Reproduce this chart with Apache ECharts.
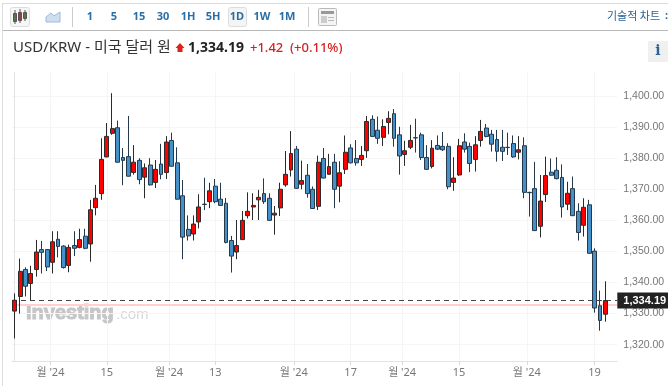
<!DOCTYPE html>
<html>
<head>
<meta charset="utf-8">
<style>
  html, body { margin: 0; padding: 0; background: #fff; }
  #chart { width: 668px; height: 386px; }
</style>
<script src="https://cdn.jsdelivr.net/npm/echarts@6/dist/echarts.min.js"></script>
</head>
<body>
<div id="chart"></div>
<script>
var opens = [1330.8,1335.5,1344.2,1339.7,1344.2,1350.6,1350.6,1346.5,1353.9,1351.7,
  1345.5,1351.9,1351.3,1354.9,1352.4,1364.1,1368.6,1380.4,1388.0,1389.8,
  1380.2,1380.5,1375.4,1379.3,1373.9,1377.8,1372.2,1378.1,1375.4,1385.7,
  1378.5,1367.9,1357.1,1355.6,1359.5,1365.2,1366.0,1371.0,1366.8,1365.5,
  1353.5,1349.8,1353.8,1361.5,1364.3,1366.6,1368.6,1367.1,1361.7,1364.0,
  1371.4,1376.2,1382.9,1371.6,1374.5,1370.0,1364.5,1379.9,1374.8,1378.7,
  1371.0,1376.4,1383.3,1379.9,1379.6,1382.4,1392.5,1389.0,1386.7,1391.5,
  1394.3,1387.5,1381.2,1383.5,1386.6,1387.5,1380.2,1377.3,1384.1,1383.8,
  1383.8,1372.2,1374.6,1385.2,1383.8,1379.6,1385.7,1389.7,1387.7,1386.0,
  1383.5,1383.5,1384.7,1381.9,1384.0,1369.0,1370.2,1358.1,1368.3,1375.5,
  1376.1,1373.8,1365.2,1370.2,1362.9,1358.4,1365.0,1350.1,1332.5,1329.8];
var closes = [1334.3,1343.6,1338.8,1342.9,1349.8,1349.7,1345.0,1353.1,1351.6,1344.8,
  1351.3,1351.0,1353.8,1351.0,1363.4,1367.1,1379.6,1387.0,1389.5,1378.7,
  1379.3,1374.2,1378.7,1373.1,1376.9,1371.4,1376.4,1374.8,1385.2,1377.4,
  1366.8,1354.6,1355.0,1358.8,1364.3,1365.1,1369.5,1366.0,1364.8,1352.9,
  1348.5,1351.9,1360.0,1362.9,1364.8,1367.4,1366.0,1360.0,1362.3,1370.0,
  1374.8,1381.5,1370.3,1372.8,1368.6,1363.8,1378.7,1373.6,1377.3,1370.0,
  1375.3,1381.9,1378.5,1378.5,1380.9,1391.8,1387.0,1386.4,1390.2,1392.8,
  1386.4,1380.7,1382.4,1385.7,1386.5,1380.2,1376.4,1383.2,1382.9,1382.7,
  1370.8,1373.6,1384.0,1382.9,1378.3,1384.3,1388.6,1387.0,1384.5,1382.2,
  1382.2,1383.4,1380.4,1382.7,1369.0,1368.9,1356.7,1366.2,1374.4,1374.5,
  1373.4,1364.3,1368.7,1361.5,1356.1,1364.2,1349.4,1331.8,1327.8,1334.19];
var lows = [1322.0,1330.0,1335.5,1334.3,1341.9,1342.9,1343.7,1342.9,1348.1,1344.5,
  1343.3,1348.5,1351.0,1350.7,1346.7,1361.6,1366.6,1380.3,1387.5,1378.6,
  1371.3,1374.1,1374.7,1371.6,1367.1,1371.2,1370.4,1373.2,1373.3,1377.3,
  1366.7,1347.5,1353.5,1353.5,1357.4,1363.3,1363.9,1365.5,1364.6,1352.6,
  1343.2,1347.5,1353.7,1360.6,1360.1,1360.1,1365.3,1359.9,1355.4,1361.4,
  1370.8,1374.1,1370.2,1370.0,1367.3,1363.7,1363.3,1373.5,1374.7,1363.9,
  1365.8,1374.9,1378.3,1377.6,1377.5,1380.1,1386.9,1384.6,1383.9,1387.7,
  1383.7,1374.7,1377.5,1382.9,1381.8,1379.4,1376.2,1376.7,1382.6,1382.3,
  1370.0,1369.5,1374.3,1381.8,1375.5,1375.7,1383.7,1386.7,1382.1,1378.9,
  1379.1,1381.0,1380.1,1379.6,1367.1,1361.2,1356.6,1354.5,1365.9,1374.4,
  1373.2,1360.9,1363.3,1361.4,1353.5,1354.8,1349.3,1330.3,1324.5,1327.4];
var highs = [1336.5,1347.7,1344.9,1345.4,1353.7,1353.4,1350.6,1356.5,1356.5,1352.0,
  1352.2,1356.5,1357.3,1357.3,1366.6,1371.4,1386.4,1391.3,1400.9,1392.1,
  1383.3,1393.6,1384.2,1380.0,1378.3,1380.0,1379.4,1384.6,1387.1,1388.2,
  1383.5,1373.0,1361.6,1361.6,1368.4,1373.7,1372.1,1373.3,1372.1,1367.2,
  1355.0,1360.1,1363.0,1369.0,1368.7,1369.8,1373.5,1368.7,1364.6,1372.1,
  1382.3,1388.7,1383.9,1379.2,1378.1,1370.9,1380.8,1383.3,1381.4,1381.4,
  1379.0,1387.3,1384.5,1385.8,1383.9,1393.6,1393.8,1393.4,1392.5,1395.1,
  1395.8,1390.1,1385.6,1390.7,1392.7,1388.2,1384.2,1385.8,1387.3,1388.4,
  1384.8,1380.3,1386.2,1388.0,1385.0,1387.1,1392.3,1391.0,1389.1,1389.1,
  1389.1,1388.2,1387.3,1387.1,1386.7,1369.2,1378.8,1374.6,1380.5,1379.9,
  1380.3,1378.0,1372.4,1374.1,1365.5,1367.1,1366.6,1351.0,1337.4,1340.4];

var lastPrice = 1334.19;
var prevClose = 1332.77;

var xTickPositions = [6.6, 17, 28.5, 37, 51.5, 62, 71.5, 82, 94.5, 107];
var xTickLabels = ["월 '24", "15", "월 '24", "13", "월 '24", "17", "월 '24", "15", "월 '24", "19"];
var yTicks = [1320, 1330, 1340, 1350, 1360, 1370, 1380, 1390, 1400];

var periods = ["1", "5", "15", "30", "1H", "5H", "1D", "1W", "1M"];
var periodCenters = [90, 114, 139, 163, 188, 213, 237, 262, 287];

var candles = [];
for (var i = 0; i < opens.length; i++) {
  candles.push([i, opens[i], closes[i], lows[i], highs[i]]);
}

function txt(x, y, text, font, fill, align) {
  return {
    type: "text", x: x, y: y, silent: true,
    style: { text: text, font: font, fill: fill, align: align || "left", verticalAlign: "middle" }
  };
}
function box(x, y, w, h, fill, stroke, r) {
  return {
    type: "rect", silent: true,
    shape: { x: x, y: y, width: w, height: h, r: r || 0 },
    style: { fill: fill || "none", stroke: stroke || "none", lineWidth: 1 }
  };
}
function rule(x1, y1, x2, y2, color) {
  return {
    type: "line", silent: true,
    shape: { x1: x1, y1: y1, x2: x2, y2: y2 },
    style: { stroke: color, lineWidth: 1 }
  };
}

var headFont = '"Noto Sans", "Noto Sans CJK KR", sans-serif';

var chrome = [
  rule(2, 3.5, 668, 3.5, "#dcdcdc"),
  rule(2.5, 3, 2.5, 386, "#dcdcdc"),
  rule(3, 30.5, 668, 30.5, "#b8b8b8"),

  box(10.5, 7.5, 19, 19, "#f6f6f6", "#dddddd", 2),
  box(13.5, 13.5, 3, 8, "#4f9a3a", "#555"),
  box(18.5, 12.5, 3, 8, "#e8262a", "#555"),
  box(23.5, 12.5, 3, 6, "#4f9a3a", "#555"),
  rule(15, 10, 15, 24, "#555"),
  rule(20, 9, 20, 23, "#555"),
  rule(25, 10, 25, 21, "#555"),

  {
    type: "polygon", silent: true,
    shape: { points: [[46, 22], [46, 17], [51, 13], [54, 16], [60, 12], [60, 22]] },
    style: { fill: "#cfdff0", stroke: "#9dbbdb", lineWidth: 1 }
  },

  rule(72.5, 7, 72.5, 27, "#cccccc"),
  box(228.5, 7.5, 18, 19, "#f4f4f4", "#dddddd", 2),
  rule(308.5, 7, 308.5, 27, "#cccccc"),

  box(318.5, 8.5, 18, 17, "#f4f4f4", "#bbbbbb", 1),
  box(321, 11, 13, 3, "#999999"),
  box(321, 16, 6, 7, "#cccccc"),
  rule(328, 17.5, 334, 17.5, "#bbbbbb"),
  rule(328, 20.5, 334, 20.5, "#bbbbbb"),

  txt(607, 16, "기술적 차트", '11px "Noto Sans CJK KR", sans-serif', "#2a6496"),
  txt(665, 16, ":", "bold 11px " + headFont, "#2a6496"),

  txt(13, 48, "USD/KRW - 미국 달러 원", "15px " + headFont, "#333333"),
  {
    type: "polygon", silent: true,
    shape: { points: [[180, 43], [184.5, 48], [182.5, 48], [182.5, 52], [177.5, 52], [177.5, 48], [175.5, 48]] },
    style: { fill: "#e0201c" }
  },
  txt(188, 48, "1,334.19", "bold 14px " + headFont, "#222222"),
  txt(250, 48, "+1.42", "500 13px " + headFont, "#d81f1f"),
  txt(290, 48, "(+0.11%)", "500 13px " + headFont, "#d81f1f"),

  box(648, 41, 20, 21, "#f0f0f0"),
  txt(658, 51, "i", 'bold 14px "DejaVu Serif", serif', "#2a6496", "center"),

  {
    type: "text", x: 26, y: 313, silent: true,
    style: {
      text: "Investing", font: 'bold 20px "Liberation Sans", sans-serif',
      fill: "#c6c6c6", stroke: "#c6c6c6", lineWidth: 1, verticalAlign: "middle"
    }
  },
  txt(116, 315, ".com", '15px "Liberation Sans", sans-serif', "#d8d8d8"),
  {
    type: "circle", silent: true,
    shape: { cx: 87, cy: 304, r: 1.5 },
    style: { fill: "#f9d9b0" }
  }
];

for (var p = 0; p < periods.length; p++) {
  chrome.push(txt(periodCenters[p], 16.5, periods[p], "bold 11px " + headFont, "#2a6ea6", "center"));
}

var myChart = echarts.init(document.getElementById("chart"));
var option = {
  animation: false,
  backgroundColor: "#fff",
  graphic: { elements: chrome },
  grid: { left: 12, top: 72, width: 605.3, height: 289, containLabel: false },
  xAxis: {
    type: "value",
    min: -0.49,
    max: 111.2,
    axisLine: { onZero: false, lineStyle: { color: "#e3e3e3" } },
    axisTick: { length: 4, lineStyle: { color: "#dcdcdc" }, customValues: xTickPositions },
    axisLabel: {
      color: "#777",
      fontSize: 11,
      fontFamily: headFont,
      margin: 6,
      customValues: xTickPositions,
      formatter: function (v) {
        return xTickLabels[xTickPositions.indexOf(v)];
      }
    },
    splitLine: { show: true, lineStyle: { color: "#f5f5f5" }, customValues: xTickPositions }
  },
  yAxis: {
    type: "value",
    position: "right",
    min: 1314.75,
    max: 1407.72,
    axisLine: { show: true, lineStyle: { color: "#e3e3e3" } },
    axisTick: { show: false, customValues: yTicks },
    axisLabel: {
      color: "#777",
      fontSize: 10.5,
      fontFamily: '"Liberation Sans", sans-serif',
      margin: 6,
      customValues: yTicks,
      formatter: function (v) {
        return v.toLocaleString("en-US", { minimumFractionDigits: 2, maximumFractionDigits: 2 });
      }
    },
    splitLine: { show: true, lineStyle: { color: "#f5f5f5" }, customValues: yTicks }
  },
  series: [
    {
      type: "candlestick",
      data: candles,
      encode: { x: 0, y: [1, 2, 3, 4] },
      barWidth: 4.4,
      itemStyle: {
        color: "#ff0000",
        color0: "#4590c8",
        borderColor: "#2b2b2b",
        borderColor0: "#26394a",
        borderWidth: 1
      },
      markLine: {
        silent: true,
        symbol: "none",
        animation: false,
        z: 1,
        data: [
          {
            yAxis: prevClose,
            lineStyle: { color: "#ffd0d0", width: 2, type: "solid" },
            label: { show: false }
          },
          {
            yAxis: lastPrice,
            lineStyle: { color: "#444", width: 1, type: [5, 4] },
            label: {
              show: true,
              position: "end",
              distance: 0,
              formatter: "1,334.19",
              color: "#fff",
              backgroundColor: "#222",
              fontFamily: '"Liberation Sans", sans-serif',
              fontSize: 11,
              fontWeight: "bold",
              padding: [3, 6, 2, 6]
            }
          }
        ]
      }
    }
  ]
};
myChart.setOption(option);
</script>
</body>
</html>
